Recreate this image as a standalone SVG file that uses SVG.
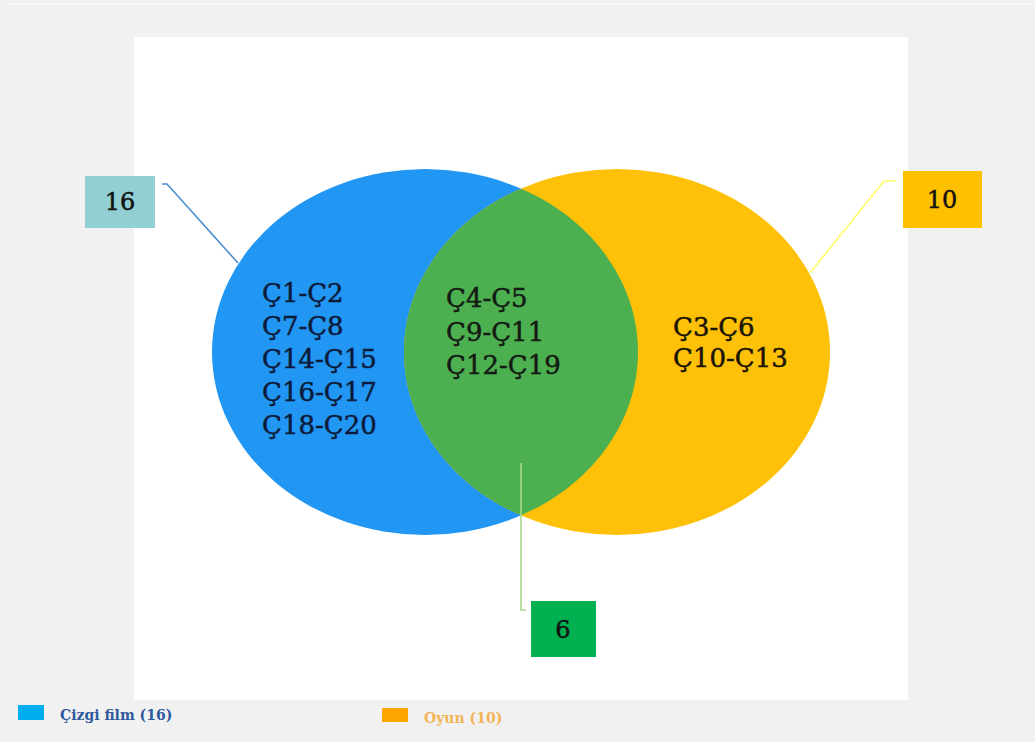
<svg xmlns="http://www.w3.org/2000/svg" width="1035" height="742" viewBox="0 0 1035 742">
<style>
.t{font-family:"DejaVu Serif","Liberation Serif",serif;font-size:26px;stroke-width:0.5}
.n{font-family:"DejaVu Serif","Liberation Serif",serif;font-size:24px;fill:#111;stroke:#111;stroke-width:0.5;text-anchor:middle}
.lg{font-family:"DejaVu Serif","Liberation Serif",serif;font-size:14px;font-weight:bold}
.ln{fill:none;stroke-width:1.6}
</style>
<rect width="1035" height="742" fill="#f1f1f1"/>
<rect x="7" y="3" width="1028" height="2" fill="#f7f7f7"/>
<rect x="134" y="37" width="774" height="663" fill="#ffffff"/>
<g id="circle-cartoon"><ellipse cx="425" cy="352" rx="213" ry="183" fill="#2196f3"/></g>
<g id="circle-game"><ellipse cx="617" cy="352" rx="213" ry="183" fill="#ffc107"/></g>
<g id="intersection">
<clipPath id="cp"><ellipse cx="425" cy="352" rx="213" ry="183"/></clipPath>
<ellipse cx="617" cy="352" rx="213" ry="183" fill="#4caf50" clip-path="url(#cp)"/>
</g>
<g id="connectors">
<polyline class="ln" points="162,184 167,184 238,263" stroke="#4a8fd0"/>
<polyline class="ln" points="896,181 884,181 810,273" stroke="#ffff66"/>
<polyline class="ln" points="521,463 521,610 526,610" stroke="#a8d88a"/>
</g>
<g id="label-cartoon" fill="#0d1b3a" stroke="#0d1b3a">
<text class="t" x="262" y="302">Ç1-Ç2</text>
<text class="t" x="262" y="335">Ç7-Ç8</text>
<text class="t" x="262" y="368">Ç14-Ç15</text>
<text class="t" x="262" y="401">Ç16-Ç17</text>
<text class="t" x="262" y="434">Ç18-Ç20</text>
</g>
<g id="label-both" fill="#141a14" stroke="#141a14">
<text class="t" x="446" y="307">Ç4-Ç5</text>
<text class="t" x="446" y="341">Ç9-Ç11</text>
<text class="t" x="446" y="374">Ç12-Ç19</text>
</g>
<g id="label-game" fill="#1a1505" stroke="#1a1505">
<text class="t" x="673" y="336">Ç3-Ç6</text>
<text class="t" x="673" y="367">Ç10-Ç13</text>
</g>
<g id="box-16"><rect x="85" y="176" width="70" height="52" fill="#92cfd4"/><text class="n" x="120" y="210">16</text></g>
<g id="box-10"><rect x="903" y="171" width="79" height="57" fill="#ffc000"/><text class="n" x="942" y="208">10</text></g>
<g id="box-6"><rect x="531" y="601" width="65" height="56" fill="#00b050"/><text class="n" x="563" y="638">6</text></g>
<g id="legend">
<rect x="18" y="705" width="26" height="15" fill="#00aeef"/>
<text class="lg" x="60" y="720" fill="#2f5a9e">Çizgi film (16)</text>
<rect x="382" y="708" width="26" height="14" fill="#ffa500"/>
<text class="lg" x="424" y="723" fill="#f3b556">Oyun (10)</text>
</g>
</svg>
